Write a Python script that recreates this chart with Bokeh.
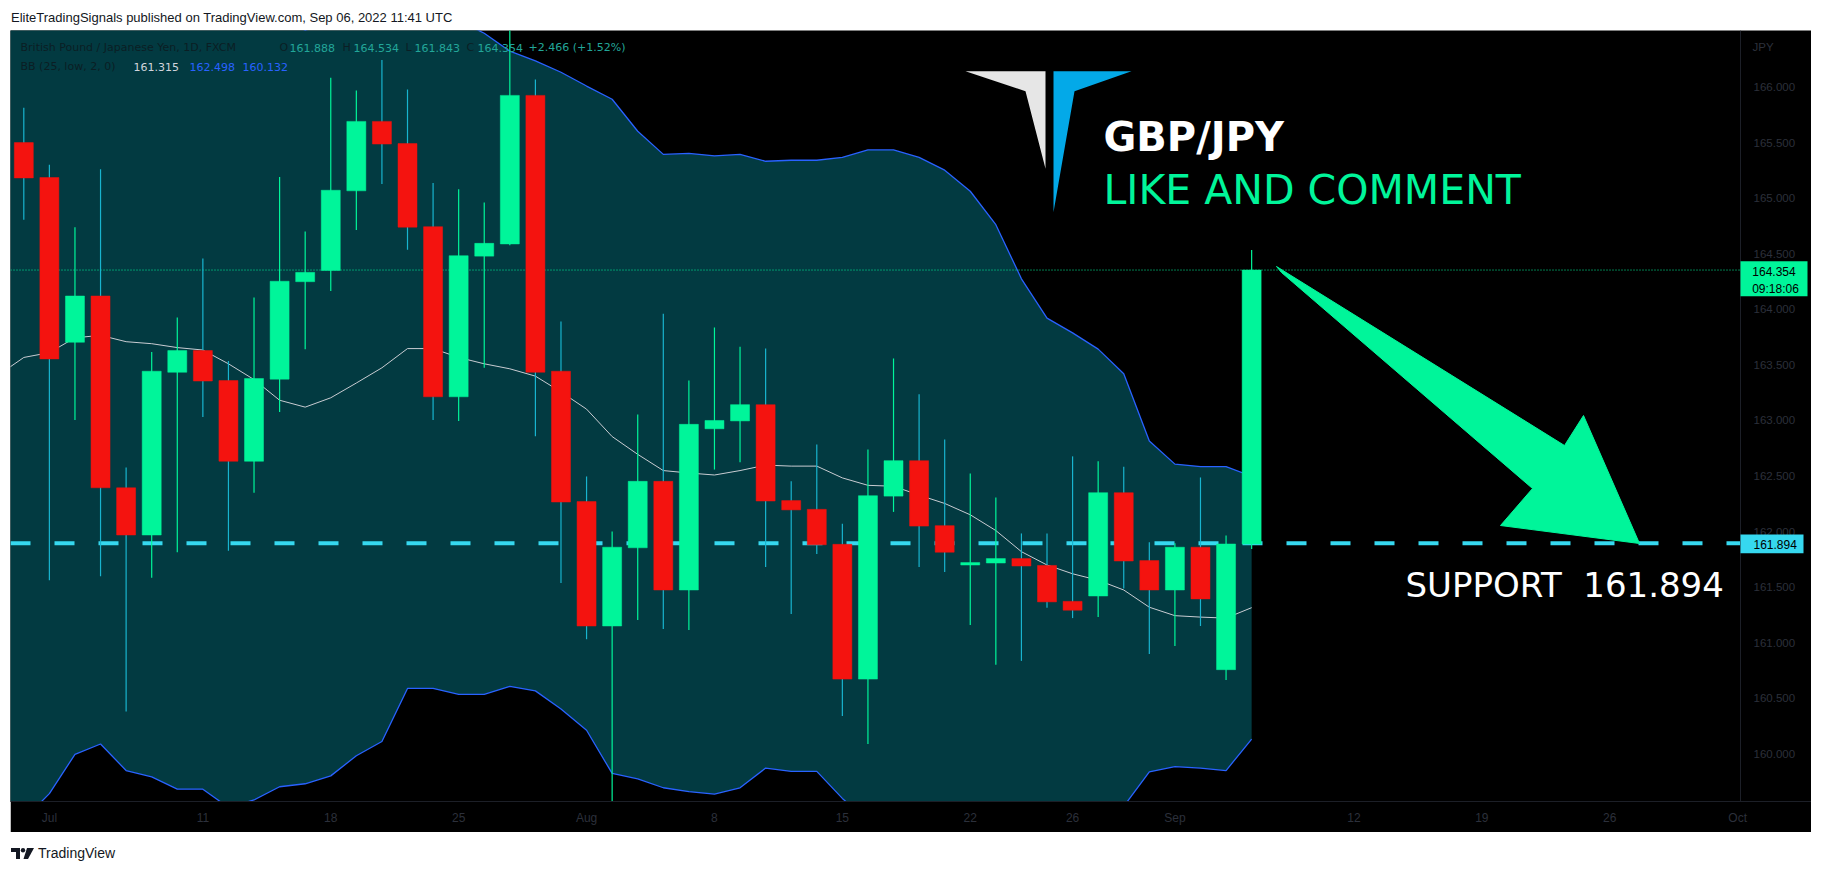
from bokeh.plotting import figure
from bokeh.models import Range1d, FixedTicker, Div, ColumnDataSource
from bokeh.layouts import column
from bokeh.core.properties import value
from bokeh.embed import file_html
from bokeh.resources import INLINE

# ---------------- data (GBP/JPY daily, FXCM) ----------------
opens = [165.501, 165.187, 163.704, 164.120, 162.394, 161.969, 163.434, 163.629, 163.359, 162.633,
         163.372, 164.249, 164.350, 165.067, 165.692, 165.492, 164.744, 163.213, 164.479, 164.589,
         165.926, 163.443, 162.270, 161.150, 161.854, 162.452, 161.474, 162.925, 162.996, 163.142,
         162.279, 162.200, 161.885, 160.672, 162.319, 162.638, 162.053, 161.699, 161.717, 161.757,
         161.695, 161.372, 161.420, 162.350, 161.739, 161.474, 161.859, 160.757, 161.888]
highs = [165.815, 165.302, 164.740, 165.262, 162.576, 163.616, 163.926, 164.457, 163.536, 164.107,
         165.191, 164.700, 166.085, 165.970, 166.245, 165.979, 165.138, 165.081, 164.961, 166.600,
         166.068, 163.890, 162.496, 162.000, 163.054, 163.961, 163.359, 163.837, 163.664, 163.647,
         162.452, 162.784, 162.071, 162.739, 163.558, 163.235, 162.828, 162.523, 162.306, 161.983,
         161.983, 162.677, 162.633, 162.584, 161.903, 161.894, 162.487, 161.965, 164.534]
lows = [164.806, 161.562, 163.005, 161.597, 160.380, 161.584, 161.814, 163.032, 161.828, 162.350,
        163.076, 163.642, 164.165, 164.714, 165.129, 164.536, 163.005, 162.996, 163.474, 164.576,
        162.859, 161.536, 161.031, 159.500, 161.204, 161.124, 161.115, 162.558, 162.624, 161.682,
        161.257, 161.797, 160.341, 160.088, 162.177, 161.682, 161.637, 161.159, 160.801, 160.836,
        161.314, 161.221, 161.230, 161.487, 160.898, 160.969, 161.150, 160.664, 161.843]
closes = [165.183, 163.554, 164.120, 162.394, 161.969, 163.443, 163.629, 163.355, 162.633, 163.377,
          164.253, 164.333, 165.072, 165.692, 165.488, 164.740, 163.213, 164.483, 164.594, 165.926,
          163.434, 162.266, 161.150, 161.859, 162.452, 161.474, 162.965, 163.000, 163.142, 162.275,
          162.195, 161.881, 160.672, 162.323, 162.638, 162.049, 161.814, 161.721, 161.757, 161.690,
          161.367, 161.292, 162.350, 161.735, 161.474, 161.859, 161.394, 161.888, 164.354]

# Bollinger Bands (25, low, 2) - first value belongs to the bar before the first candle
bb_upper = [167.826, 167.724, 167.581, 167.493, 167.444, 167.569, 167.590, 167.631, 167.587, 167.503,
            167.152, 166.661, 166.510, 166.607, 166.692, 166.838, 166.706, 166.706, 166.599, 166.485,
            166.324, 166.236, 166.134, 166.010, 165.891, 165.603, 165.395, 165.404, 165.382, 165.395,
            165.333, 165.342, 165.342, 165.368, 165.435, 165.435, 165.368, 165.253, 165.063, 164.762,
            164.275, 163.921, 163.788, 163.642, 163.421, 162.815, 162.607, 162.585, 162.585, 162.498]
bb_basis = [163.408, 163.567, 163.611, 163.744, 163.766, 163.709, 163.691, 163.656, 163.634, 163.510,
            163.368, 163.182, 163.120, 163.204, 163.337, 163.474, 163.647, 163.647, 163.567, 163.510,
            163.465, 163.399, 163.257, 163.102, 162.855, 162.695, 162.549, 162.527, 162.509, 162.549,
            162.598, 162.589, 162.589, 162.483, 162.416, 162.408, 162.328, 162.253, 162.151, 162.009,
            161.819, 161.699, 161.620, 161.562, 161.474, 161.319, 161.243, 161.230, 161.221, 161.315]
bb_lower = [158.990, 159.410, 159.641, 159.995, 160.088, 159.849, 159.792, 159.681, 159.681, 159.517,
            159.584, 159.703, 159.730, 159.801, 159.982, 160.110, 160.588, 160.588, 160.535, 160.535,
            160.606, 160.566, 160.403, 160.212, 159.823, 159.774, 159.694, 159.659, 159.637, 159.694,
            159.871, 159.841, 159.841, 159.598, 159.397, 159.381, 159.288, 159.253, 159.239, 159.256,
            159.363, 159.477, 159.452, 159.482, 159.527, 159.836, 159.885, 159.871, 159.849, 160.132]

date_tick_pos = [1, 7, 12, 17, 22, 27, 32, 37, 41, 45, 52, 57, 62, 67]
date_tick_labels = ["Jul", "11", "18", "25", "Aug", "8", "15", "22", "26", "Sep", "12", "19", "26", "Oct"]
price_ticks = [160.0, 160.5, 161.0, 161.5, 162.0, 162.5, 163.0, 163.5, 164.0, 164.5, 165.0, 165.5, 166.0]

support_level = 161.894
countdown = "09:18:06"

# ---------------- geometry / style ----------------
FIG_W, FIG_H = 1801, 802
FRAME_H = 771
PXU = 25.58          # px per bar
PYU = 111.1          # px per 1 JPY
X0 = -0.52
YTOP = 166.51
SX0, SY0 = 10, 30    # screen position of the frame's top-left corner


def sx(px):
    return X0 + (px - SX0) / PXU


def sy(py):
    return YTOP - (py - SY0) / PYU


GREEN = "#00F59A"
RED = "#F4130F"
RED_WICK = "#18B4CF"
TEAL = "#023A41"
BAND = "#2962FF"
CYAN = "#36D8EF"
DIM = "#2C303B"
DARK_TXT = "#0B1E24"
VAL_TXT = "#22A699"
SCALE_X = 1740       # left edge of the price scale column (screen px)

p = figure(width=FIG_W, height=FIG_H, title=None,
           x_range=Range1d(X0, sx(SX0 + FIG_W)),
           y_range=Range1d(YTOP - FRAME_H / PYU, YTOP),
           y_axis_location=None, toolbar_location=None, output_backend="svg",
           min_border_left=0, min_border_right=0, min_border_top=0, min_border_bottom=31,
           background_fill_color="black", border_fill_color="black", outline_line_color=None,
           margin=(0, 0, 0, 2))
p.grid.visible = False

# time axis
p.xaxis.ticker = FixedTicker(ticks=date_tick_pos)
p.xaxis.major_label_overrides = {k: v for k, v in zip(date_tick_pos, date_tick_labels)}
p.xaxis.axis_line_color = "#1C1F27"
p.xaxis.major_tick_line_color = None
p.xaxis.minor_tick_line_color = None
p.xaxis.major_tick_out = 0
p.xaxis.major_label_text_color = DIM
p.xaxis.major_label_text_font = "Liberation Sans"
p.xaxis.major_label_text_font_size = "12px"
p.xaxis.major_label_standoff = 9

# Bollinger bands
bb_x = list(range(-1, len(opens)))
p.varea(x=bb_x, y1=bb_lower, y2=bb_upper, fill_color=TEAL)
p.line(bb_x, bb_basis, line_color="#C9CCD2", line_width=1)
p.line(bb_x, bb_upper, line_color=BAND, line_width=1.3)
p.line(bb_x, bb_lower, line_color=BAND, line_width=1.3)

# price lines (end at the price scale)
p.segment(x0=[X0], x1=[sx(SCALE_X)], y0=[closes[-1]], y1=[closes[-1]],
          line_color=GREEN, line_width=1, line_dash="1 2")
p.segment(x0=[X0], x1=[sx(SCALE_X)], y0=[support_level], y1=[support_level],
          line_color=CYAN, line_width=4, line_dash="20 24")

# candles
idx = list(range(len(opens)))
up = [c >= o for o, c in zip(opens, closes)]
src = ColumnDataSource(dict(
    x=idx, o=opens, h=highs, l=lows, c=closes,
    top=[max(o, c) for o, c in zip(opens, closes)],
    bottom=[min(o, c) for o, c in zip(opens, closes)],
    body=[GREEN if u else RED for u in up],
    wick=[GREEN if u else RED_WICK for u in up],
))
p.segment(x0="x", y0="l", x1="x", y1="h", source=src, line_color="wick", line_width=1.2)
p.vbar(x="x", width=0.743, top="top", bottom="bottom", source=src,
       fill_color="body", line_color="body", line_width=0.5)

# big arrow
arrow_px = [(1276, 266), (1564, 445), (1583, 415), (1639, 543), (1500, 525), (1532, 488), (1281, 272)]
p.patch([sx(a) for a, b in arrow_px], [sy(b) for a, b in arrow_px], fill_color=GREEN, line_color=GREEN)

# logo
logo_white = [(965, 70.7), (1045, 70.7), (1045, 168.3), (1025, 90.7)]
logo_blue = [(1053, 70.7), (1131, 70.7), (1074, 90.7), (1053, 211.7)]
p.patch([sx(a) for a, b in logo_white], [sy(b) for a, b in logo_white], fill_color="#E6E6E6", line_color=None)
p.patch([sx(a) for a, b in logo_blue], [sy(b) for a, b in logo_blue], fill_color="#03A9E8", line_color=None)

# big texts
p.text(x=[sx(1103)], y=[sy(136.7)], text=["GBP/JPY"], text_color="white",
       text_font=value("DejaVu Sans"), text_font_size="40px", text_font_style="bold",
       text_baseline="alphabetic")
p.text(x=[sx(1103)], y=[sy(189.3)], text=["LIKE AND COMMENT"], text_color=GREEN,
       text_font=value("DejaVu Sans"), text_font_size="41px", text_baseline="alphabetic")
p.text(x=[sx(1405)], y=[sy(584)], text=[f"SUPPORT\u00a0 {support_level:.3f}"], text_color="white",
       text_font=value("DejaVu Sans"), text_font_size="34px", text_baseline="alphabetic")

# legend texts (top-left)
chg = closes[-1] - closes[-2]
pct = chg / closes[-2] * 100
leg = [
    (20, 47, "British Pound / Japanese Yen, 1D, FXCM", DARK_TXT),
    (279, 47, "O", DARK_TXT), (289, 47, f"{opens[-1]:.3f}", VAL_TXT),
    (342, 47, "H", DARK_TXT), (353, 47, f"{highs[-1]:.3f}", VAL_TXT),
    (405, 47, "L", DARK_TXT), (414, 47, f"{lows[-1]:.3f}", VAL_TXT),
    (466, 47, "C", DARK_TXT), (477, 47, f"{closes[-1]:.3f}", VAL_TXT),
    (528, 47, f"{chg:+.3f} ({pct:+.2f}%)", VAL_TXT),
    (20, 66, "BB (25, low, 2, 0)", DARK_TXT),
    (133, 66, f"{bb_basis[-1]:.3f}", "#D1D4DC"),
    (189, 66, f"{bb_upper[-1]:.3f}", BAND),
    (242, 66, f"{bb_lower[-1]:.3f}", BAND),
]
p.text(x=[sx(a) for a, b, t, c in leg], y=[sy(b) for a, b, t, c in leg],
       text=[t for a, b, t, c in leg], text_color=[c for a, b, t, c in leg],
       text_font=value("DejaVu Sans"), text_font_size="11px", text_baseline="middle")

# ---------------- price scale column ----------------
p.vspan(x=[sx(SCALE_X)], line_color="#1C1F27", line_width=1)
p.text(x=[sx(1753)] * len(price_ticks), y=price_ticks, text=[f"{v:.3f}" for v in price_ticks],
       text_color=DIM, text_font=value("Liberation Sans"), text_font_size="11.5px",
       text_baseline="middle", text_align="left")
p.text(x=[sx(1752)], y=[sy(46)], text=["JPY"], text_color=DIM, text_font=value("Liberation Sans"),
       text_font_size="11.5px", text_baseline="middle", text_align="left")

# last price tag + countdown
p.quad(left=[sx(SCALE_X)], right=[sx(1807)], top=[sy(260.7)], bottom=[sy(295.7)],
       fill_color=GREEN, line_color=None)
p.text(x=[sx(1773.5), sx(1775)], y=[sy(271), sy(288)], text=[f"{closes[-1]:.3f}", countdown],
       text_color="black", text_font=value("Liberation Sans"), text_font_size="12px",
       text_baseline="middle", text_align="center")
# support tag
p.quad(left=[sx(SCALE_X)], right=[sx(1803)], top=[sy(534)], bottom=[sy(552.7)],
       fill_color=CYAN, line_color=None)
p.text(x=[sx(1774.7)], y=[sy(543.6)], text=[f"{support_level:.3f}"],
       text_color="black", text_font=value("Liberation Sans"), text_font_size="12px",
       text_baseline="middle", text_align="center")

header = Div(text='<div style="font-family:\'Liberation Sans\',Arial,sans-serif;font-size:13px;'
                  'color:#131722;line-height:19px;padding-left:3px;white-space:nowrap;">'
                  'EliteTradingSignals published on TradingView.com, Sep 06, 2022 11:41 UTC</div>',
             width=1805, height=22, margin=(0, 0, 0, 0))
logo_svg = ('<svg width="24" height="12" viewBox="0 0 24 12" style="vertical-align:middle;margin-right:3px">'
            '<path d="M0 0h9v11H5V4H0z" fill="#131722"/><circle cx="12" cy="2.2" r="2.2" fill="#131722"/>'
            '<path d="M16 0h7l-6 11h-4.5z" fill="#131722"/></svg>')
footer = Div(text='<div style="font-family:\'Liberation Sans\',Arial,sans-serif;font-size:14px;'
                  'color:#131722;line-height:14px;padding-top:14px;padding-left:3px;white-space:nowrap;">'
                  + logo_svg + 'TradingView</div>',
             width=1805, height=24, margin=(0, 0, 0, 0))

layout = column(header, p, footer, spacing=0, margin=(8, 0, 0, 8))
open("out.html", "w").write(file_html(layout, INLINE))
